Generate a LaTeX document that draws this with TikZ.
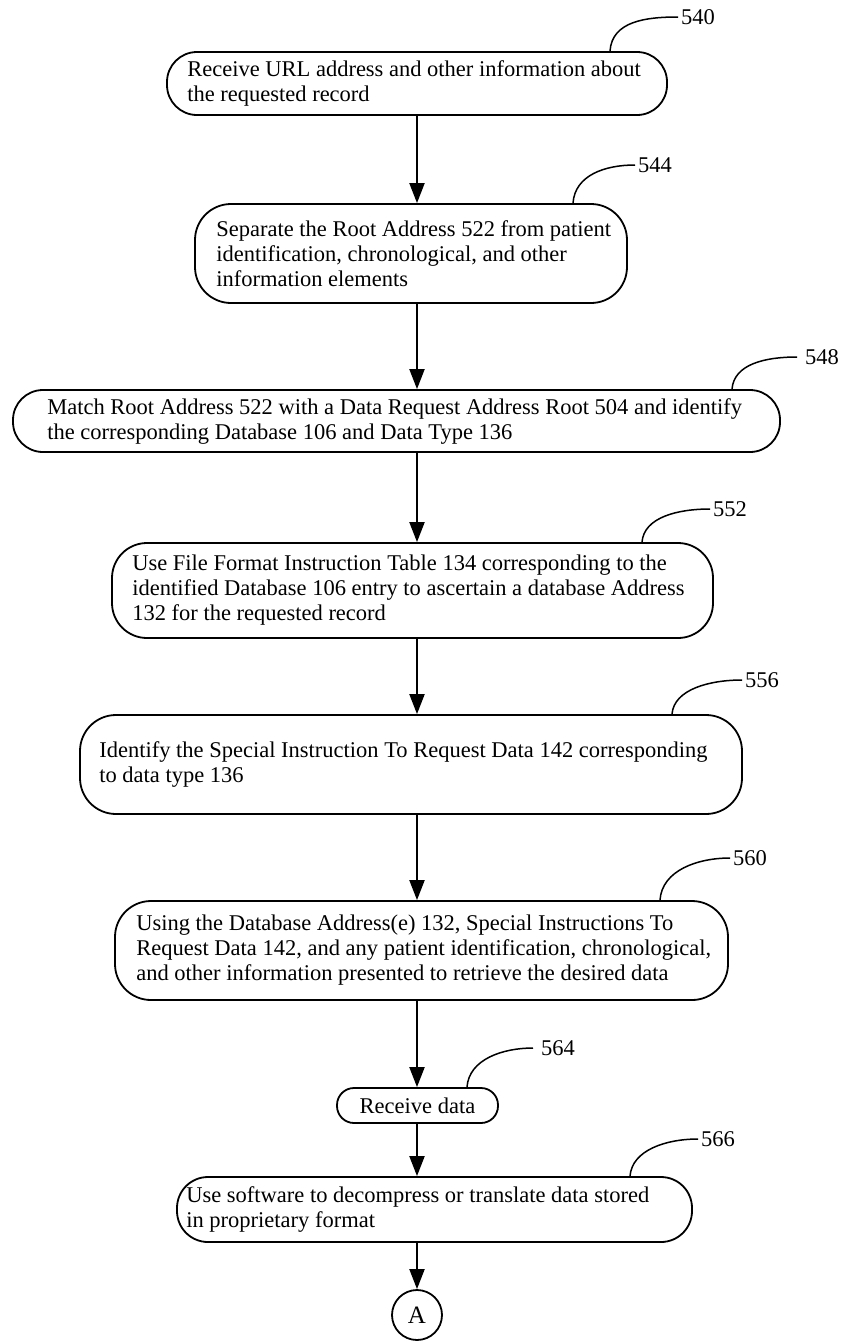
\documentclass[tikz,border=0pt]{standalone}
\usepackage{fontspec}
\setmainfont{Liberation Serif}
\usetikzlibrary{arrows.meta}
\begin{document}
\begin{tikzpicture}[x=1pt,y=-1pt,
  box/.style={draw, line width=1.8pt, rounded corners=#1, inner sep=0pt},
  box/.default=32pt,
  txt/.style={anchor=west, align=left, inner sep=0pt, font=\fontsize{22.5}{25}\selectfont},
  lab/.style={anchor=west, inner sep=3pt, font=\fontsize{22.5}{25}\selectfont},
  leader/.style={line width=1.5pt},
  arr/.style={line width=2pt, -{Triangle[width=15pt,length=20pt]}}]
\useasboundingbox (0,0) rectangle (842,1342);
\coordinate (spine) at (417,0);

% boxes
\node[box=30pt, minimum width=500pt, minimum height=63pt] (b540) at (417,83.5) {};
\node[box=36pt, minimum width=432pt, minimum height=99pt] (b544) at (411,253.5) {};
\node[box=30pt, minimum width=767pt, minimum height=62pt] (b548) at (396.5,421) {};
\node[box=35pt, minimum width=601pt, minimum height=95pt] (b552) at (412.5,590.5) {};
\node[box=36pt, minimum width=662pt, minimum height=99pt] (b556) at (411,764.5) {};
\node[box=36pt, minimum width=613pt, minimum height=99pt] (b560) at (421.5,950.5) {};
\node[box=17pt, minimum width=161pt, minimum height=35pt] (b564) at (417.5,1105.5) {};
\node[box=31pt, minimum width=515pt, minimum height=65pt] (b566) at (434.5,1209.5) {};
\node[draw, circle, line width=1.8pt, minimum size=50pt, inner sep=0pt,
      font=\fontsize{25}{28}\selectfont] (A) at (417,1315) {A};

% texts
\node[txt] (t540) at ([xshift=21pt]b540.west) {Receive URL address and other information about\\the requested record};
\node[txt] (t544) at ([xshift=22pt]b544.west) {Separate the Root Address 522 from patient\\identification, chronological, and other\\information elements};
\node[txt] (t548) at ([xshift=35pt]b548.west) {Match Root Address 522 with a Data Request Address Root 504 and identify\\the corresponding Database 106 and Data Type 136};
\node[txt] (t552) at ([xshift=21pt]b552.west) {Use File Format Instruction Table 134 corresponding to the\\identified Database 106 entry to ascertain a database Address\\132 for the requested record};
\node[txt] (t556) at ([xshift=20pt]b556.west) {Identify the Special Instruction To Request Data 142 corresponding\\to data type 136};
\node[txt] (t560) at ([xshift=22pt]b560.west) {Using the Database Address(e) 132, Special Instructions To\\Request Data 142, and any patient identification, chronological,\\and other information presented to retrieve the desired data};
\node[txt, anchor=center] (t564) at (b564.center) {Receive data};
\node[txt] (t566) at ([xshift=10pt]b566.west) {Use software to decompress or translate data stored\\in proprietary format};

% reference labels
\node[lab] (l540) at (678,17) {540};
\node[lab] (l544) at (635,165) {544};
\node[lab] (l548) at (802,357) {548};
\node[lab] (l552) at (710,509) {552};
\node[lab] (l556) at (742,680) {556};
\node[lab] (l560) at (730,858) {560};
\node[lab] (l564) at (538,1048) {564};
\node[lab] (l566) at (698,1139) {566};

% leaders
\draw[leader] ([xshift=193pt]b540.north) .. controls +(2,-30) and +(-32,0) .. (l540.west);
\draw[leader] ([xshift=162pt]b544.north) .. controls +(2,-28) and +(-30,0) .. (l544.west);
\draw[leader] ([xshift=335.5pt]b548.north) .. controls +(2,-25) and +(-32,0) .. ([xshift=-5pt]l548.west);
\draw[leader] ([xshift=229.5pt]b552.north) .. controls +(2,-25) and +(-32,0) .. (l552.west);
\draw[leader] ([xshift=261pt]b556.north) .. controls +(2,-25) and +(-32,0) .. (l556.west);
\draw[leader] ([xshift=238.5pt]b560.north) .. controls +(2,-30) and +(-32,0) .. (l560.west);
\draw[leader] ([xshift=49.5pt]b564.north) .. controls +(2,-28) and +(-30,0) .. ([xshift=-5pt]l564.west);
\draw[leader] ([xshift=195.5pt]b566.north) .. controls +(2,-26) and +(-32,0) .. (l566.west);

% flow arrows
\draw[arr] (b540.south -| spine) -- (b544.north -| spine);
\draw[arr] (b544.south -| spine) -- (b548.north -| spine);
\draw[arr] (b548.south -| spine) -- (b552.north -| spine);
\draw[arr] (b552.south -| spine) -- (b556.north -| spine);
\draw[arr] (b556.south -| spine) -- (b560.north -| spine);
\draw[arr] (b560.south -| spine) -- (b564.north -| spine);
\draw[arr] (b564.south -| spine) -- (b566.north -| spine);
\draw[arr] (b566.south -| spine) -- (A.north);
\end{tikzpicture}
\end{document}
